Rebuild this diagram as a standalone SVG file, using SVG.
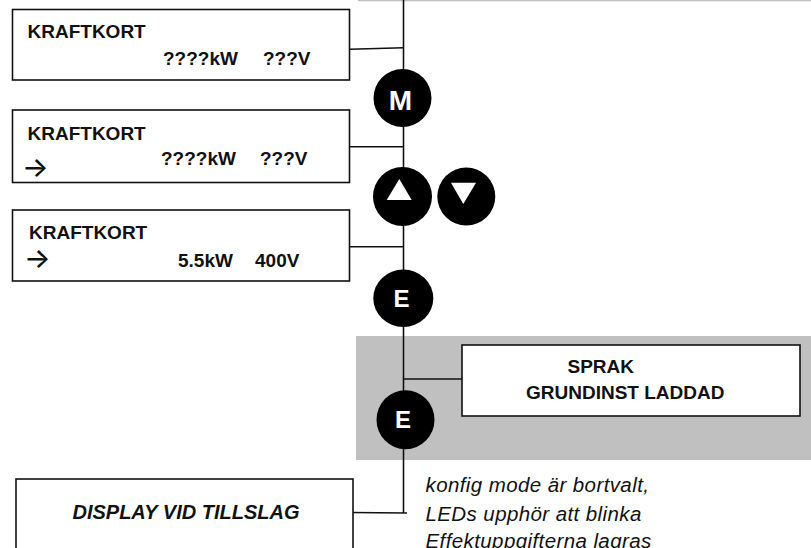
<svg xmlns="http://www.w3.org/2000/svg" width="811" height="548" viewBox="0 0 811 548">
<style>
.box{fill:#fff;stroke:#111;stroke-width:1.6}
.t{font-family:"Liberation Sans",Arial,sans-serif;font-weight:bold;font-size:19px;fill:#111}
.arr{font-family:Inter,"Noto Sans CJK JP",sans-serif;font-size:28px;font-weight:500;fill:#111}
.btn{fill:#000}
.bl{font-family:"Liberation Sans",Arial,sans-serif;font-weight:bold;fill:#fff;text-anchor:middle}
.tri{fill:#fff}
.note{font-family:"Liberation Sans",Arial,sans-serif;font-style:italic;font-size:20.5px;fill:#111;letter-spacing:0.4px}
.disp{font-family:"Liberation Sans",Arial,sans-serif;font-style:italic;font-weight:bold;font-size:20px;fill:#111;text-anchor:middle}
.ln{stroke:#111;stroke-width:1.6;fill:none}
</style>
<rect x="358" y="-10" width="453" height="11.3" fill="#c0c0c0"/>
<rect id="panel" x="356" y="336" width="455" height="124" fill="#c0c0c0"/>
<g id="connectors">
<line class="ln" x1="403.5" y1="0" x2="403.5" y2="513"/>
<line class="ln" x1="350" y1="49.3" x2="403.5" y2="47.7"/>
<line class="ln" x1="348" y1="146.7" x2="403.5" y2="146.7"/>
<line class="ln" x1="348" y1="246.7" x2="403.5" y2="246.7"/>
<line class="ln" x1="403.5" y1="379" x2="462" y2="379"/>
<line class="ln" x1="350" y1="512.5" x2="407" y2="513"/>
</g>
<g id="box1">
<rect class="box" x="12.5" y="9.5" width="337" height="70.5"/>
<text class="t" x="27.5" y="37.5">KRAFTKORT</text>
<text class="t" y="65"><tspan x="163">????kW</tspan><tspan x="263">???V</tspan></text>
</g>
<g id="box2">
<rect class="box" x="12.5" y="110" width="337" height="72.5"/>
<text class="t" x="27.5" y="139.5">KRAFTKORT</text>
<text class="arr" x="22" y="177">→</text>
<text class="t" y="165"><tspan x="161">????kW</tspan><tspan x="260">???V</tspan></text>
</g>
<g id="box3">
<rect class="box" x="12.5" y="210" width="337" height="71"/>
<text class="t" x="29" y="238.5">KRAFTKORT</text>
<text class="arr" x="24" y="268">→</text>
<text class="t" y="266.5"><tspan x="178">5.5kW</tspan><tspan x="255">400V</tspan></text>
</g>
<g id="btnM">
<circle class="btn" cx="402.5" cy="98" r="29"/>
<text class="bl" x="400.5" y="110" font-size="28">M</text>
</g>
<g id="btnUp">
<circle class="btn" cx="402.5" cy="196.5" r="29.5"/>
<polygon class="tri" points="386.7,200 411.7,200 399.3,179"/>
</g>
<g id="btnDown">
<circle class="btn" cx="466.3" cy="196.5" r="29"/>
<polygon class="tri" points="451,182.7 476,182.7 463.3,204"/>
</g>
<g id="btnE1">
<ellipse class="btn" cx="403.3" cy="298.3" rx="30" ry="28.7"/>
<text class="bl" x="401.5" y="306.7" font-size="24">E</text>
</g>
<g id="sprak">
<rect class="box" x="462" y="345" width="338" height="71"/>
<text class="t" x="567.5" y="372.7">SPRAK</text>
<text class="t" x="526" y="399.3">GRUNDINST LADDAD</text>
</g>
<g id="btnE2">
<ellipse class="btn" cx="405.5" cy="419.7" rx="29" ry="29.5"/>
<text class="bl" x="403" y="428" font-size="24">E</text>
</g>
<g id="display">
<rect class="box" x="16" y="479" width="337" height="80"/>
<text class="disp" x="186" y="519">DISPLAY VID TILLSLAG</text>
</g>
<g id="note">
<text class="note" x="425.5" y="491.7">konfig mode är bortvalt,</text>
<text class="note" x="425.5" y="521">LEDs upphör att blinka</text>
<text class="note" x="425.5" y="548">Effektuppgifterna lagras</text>
</g>
</svg>
